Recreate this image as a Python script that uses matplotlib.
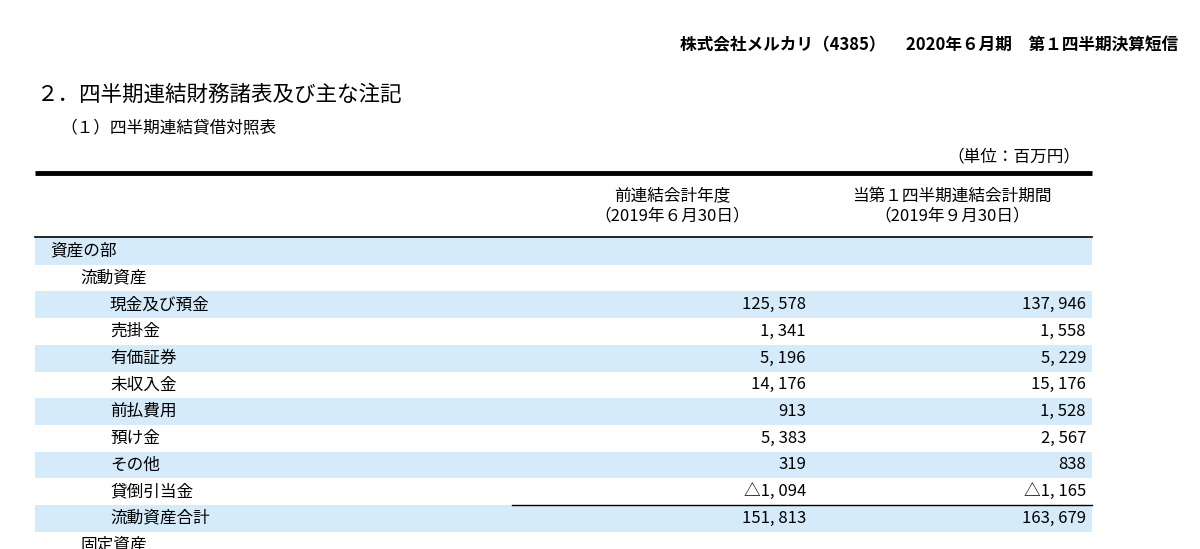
import matplotlib.pyplot as plt
from matplotlib.patches import Rectangle

plt.rcParams['font.family'] = 'Noto Sans CJK JP'

title = "株式会社メルカリ（4385）　 2020年６月期　第１四半期決算短信"
heading = "２．四半期連結財務諸表及び主な注記"
subheading = "（１）四半期連結貸借対照表"
unit = "（単位：百万円）"
col_heads = [("前連結会計年度", "（2019年６月30日）"),
             ("当第１四半期連結会計期間", "（2019年９月30日）")]

labels = ["資産の部", "流動資産", "現金及び預金", "売掛金", "有価証券", "未収入金",
          "前払費用", "預け金", "その他", "貸倒引当金", "流動資産合計", "固定資産"]
indent = [0, 1, 2, 2, 2, 2, 2, 2, 2, 2, 2, 1]
prev = ["", "", "125, 578", "1, 341", "5, 196", "14, 176", "913", "5, 383", "319",
        "△1, 094", "151, 813", ""]
curr = ["", "", "137, 946", "1, 558", "5, 229", "15, 176", "1, 528", "2, 567", "838",
        "△1, 165", "163, 679", ""]

fig = plt.figure(figsize=(12, 5.49), dpi=100)
ax = fig.add_axes([0, 0, 1, 1])
ax.set_xlim(0, 1200)
ax.set_ylim(549, 0)
ax.axis('off')

ax.text(1178, 45, title, ha='right', va='center', fontsize=12, fontweight='bold')
ax.text(36, 95, heading, ha='left', va='center', fontsize=15.5)
ax.text(60, 128, subheading, ha='left', va='center', fontsize=12)
ax.text(1080, 157, unit, ha='right', va='center', fontsize=12)

ax.plot([35, 1092], [173, 173], color='black', lw=3.5, solid_capstyle='butt')
for cx, (a, b) in zip([672, 952], col_heads):
    ax.text(cx, 196, a, ha='center', va='center', fontsize=12)
    ax.text(cx, 216, b, ha='center', va='center', fontsize=12)
ax.plot([35, 1092], [237, 237], color='black', lw=1.2)

y0, h = 238, 26.7
for i, lab in enumerate(labels):
    top = y0 + i * h
    if i % 2 == 0 and i < len(labels) - 1:
        ax.add_patch(Rectangle((35, top), 1057, h, color='#d5ebfa', lw=0))
    yc = top + h / 2
    ax.text(50 + 30 * indent[i], yc, lab, ha='left', va='center', fontsize=12)
    ax.text(806, yc, prev[i], ha='right', va='center', fontsize=12)
    ax.text(1086, yc, curr[i], ha='right', va='center', fontsize=12)
    if lab == "貸倒引当金":
        ax.plot([512, 1092], [top + h, top + h], color='black', lw=1)

fig.savefig('out.png', dpi=100)
